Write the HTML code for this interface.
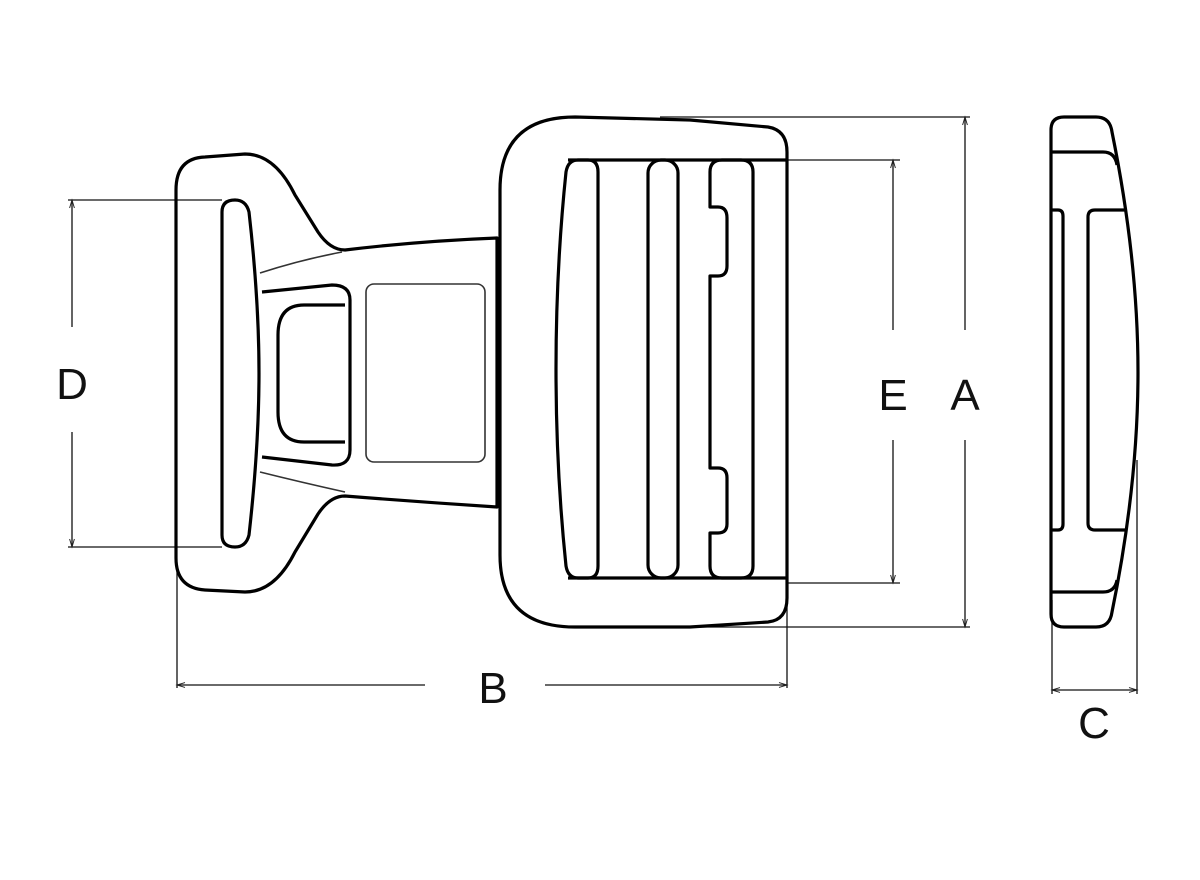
<!DOCTYPE html>
<html><head><style>body{margin:0;background:#fff}svg{display:block}</style></head>
<body>
<svg width="1200" height="880" viewBox="0 0 1200 880" xmlns="http://www.w3.org/2000/svg" font-family="Liberation Sans, sans-serif">
<defs>
<marker id="ar" viewBox="0 0 10 10" refX="10" refY="5" markerWidth="12" markerHeight="8" orient="auto-start-reverse" markerUnits="userSpaceOnUse"><path d="M0,2 L10,5 L0,8" fill="none" stroke="#222" stroke-width="1.2"/></marker>
</defs>
<g fill="none" stroke="#111" stroke-width="1.3">
<!-- extension lines -->
<line x1="68" y1="200" x2="222" y2="200"/>
<line x1="68" y1="547" x2="222" y2="547"/>
<line x1="660" y1="117" x2="970" y2="117"/>
<line x1="660" y1="627" x2="970" y2="627"/>
<line x1="787" y1="160" x2="900" y2="160"/>
<line x1="787" y1="583" x2="900" y2="583"/>
<line x1="177" y1="570" x2="177" y2="688"/>
<line x1="787" y1="600" x2="787" y2="688"/>
<line x1="1052" y1="600" x2="1052" y2="694"/>
<line x1="1137" y1="460" x2="1137" y2="694"/>
<!-- dims -->
<line x1="72" y1="200" x2="72" y2="327" marker-start="url(#ar)"/>
<line x1="72" y1="432" x2="72" y2="547" marker-end="url(#ar)"/>
<line x1="965" y1="117" x2="965" y2="330" marker-start="url(#ar)"/>
<line x1="965" y1="440" x2="965" y2="627" marker-end="url(#ar)"/>
<line x1="893" y1="160" x2="893" y2="330" marker-start="url(#ar)"/>
<line x1="893" y1="440" x2="893" y2="583" marker-end="url(#ar)"/>
<line x1="177" y1="685" x2="425" y2="685" marker-start="url(#ar)"/>
<line x1="545" y1="685" x2="787" y2="685" marker-end="url(#ar)"/>
<line x1="1052" y1="690" x2="1137" y2="690" marker-start="url(#ar)" marker-end="url(#ar)"/>
</g>
<g fill="#111" font-size="44" text-anchor="middle">
<text x="72" y="399">D</text>
<text x="893" y="410">E</text>
<text x="965" y="410">A</text>
<text x="493" y="703">B</text>
<text x="1094" y="738">C</text>
</g>
<g fill="none" stroke="#000" stroke-width="3.2" stroke-linejoin="round">
<!-- left male part outline -->
<path d="M176,190 Q176,158 205,157 L245,154 Q275,154 295,195 L318,232 Q330,250 345,250 Q420,241 497,238 L497,507 Q420,502 345,496 Q330,496 318,514 L295,552 Q275,592 245,592 L205,590 Q176,588 176,558 Z"/>
<!-- inner bar -->
<path d="M222,212 Q222,200 235,200 Q246,200 249,212 Q259,300 259,373 Q259,446 249,535 Q246,547 235,547 Q222,547 222,535 Z"/>
<!-- window -->
<path d="M262,292 L332,285 Q350,285 350,300 L350,450 Q350,466 332,465 L262,457"/>
<path d="M345,305 L304,305 Q278,305 278,335 L278,412 Q278,442 304,442 L345,442"/>
<!-- right frame -->
<path d="M500,190 Q500,117 575,117 L690,120 L768,127 Q787,130 787,152 L787,598 Q787,620 768,622 L690,627 L575,627 Q500,627 500,555 Z"/>
<path d="M568,160 L787,160 M568,578 L787,578"/>
<path d="M578,160 L588,160 Q598,160 598,172 L598,566 Q598,578 588,578 L578,578 Q568,578 566,566 Q556,470 556,369 Q556,268 566,172 Q568,160 578,160 Z"/>
<rect x="648" y="160" width="30" height="418" rx="13"/>
<path d="M722,160 L741,160 Q753,160 753,172 L753,566 Q753,578 741,578 L722,578 Q710,578 710,566 L710,533 L718,533 Q727,533 727,524 L727,478 Q727,468 718,468 L710,468 L710,276 L718,276 Q727,276 727,266 L727,218 Q727,207 718,207 L710,207 L710,172 Q710,160 722,160 Z"/>
<!-- side view -->
<path d="M1051,130 Q1051,117 1064,117 L1096,117 Q1110,117 1112,132 Q1138,260 1138,372 Q1138,485 1112,612 Q1110,627 1096,627 L1064,627 Q1051,627 1051,614 Z"/>
<path d="M1051,152 L1103,152 Q1115,152 1117,165 M1051,592 L1103,592 Q1115,592 1117,580"/>
<path d="M1051,210 L1058,210 Q1063,210 1063,216 L1063,524 Q1063,530 1058,530 L1051,530"/>
<path d="M1127,210 L1095,210 Q1088,210 1088,217 L1088,523 Q1088,530 1095,530 L1127,530"/>
</g>
<g fill="none" stroke="#333" stroke-width="1.6">
<path d="M260,273 Q300,260 342,252"/>
<path d="M260,472 Q300,482 345,492"/>
<rect x="366" y="284" width="119" height="178" rx="8"/>
</g>
</svg>
</body></html>
